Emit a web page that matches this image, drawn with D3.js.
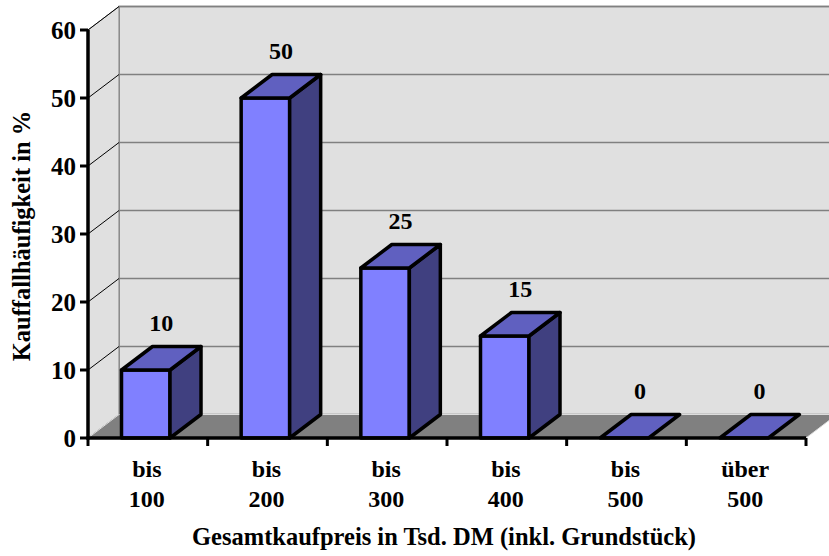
<!DOCTYPE html>
<html>
<head>
<meta charset="utf-8">
<script src="https://cdn.jsdelivr.net/npm/d3@7"></script>
<style>
  body { margin: 0; background: #fff; }
  text { font-family: "Liberation Serif", "Times New Roman", serif; font-weight: bold; fill: #000; }
</style>
</head>
<body>
<div id="chart"></div>
<script>
// data
const catTop = ['bis', 'bis', 'bis', 'bis', 'bis', 'über'];
const catBottom = ['100', '200', '300', '400', '500', '500'];
const values = [10, 50, 25, 15, 0, 0];
const yTicks = [0, 10, 20, 30, 40, 50, 60];

const W = 829, H = 556;
const x0 = 88, x1 = 806, yBase = 438, yTop = 30;
const dx = 31, dy = -23.5;   // depth offset of the 3d box
const colors = { front: '#8080FF', top: '#6060C0', side: '#404080', wall: '#E0E0E0', floor: '#808080', grid: '#808080' };

const svg = d3.select('#chart').append('svg')
  .attr('width', W)
  .attr('height', H);

const x = d3.scaleBand()
  .domain(d3.range(values.length))
  .range([x0, x1])
  .paddingInner(0)
  .paddingOuter(0);

const y = d3.scaleLinear()
  .domain([0, 60])
  .range([yBase, yTop]);

const pts = arr => arr.map(p => p.join(',')).join(' ');

// back wall
svg.append('polygon')
  .attr('points', pts([[x0 + dx, yTop + dy], [x1 + dx, yTop + dy], [x1 + dx, yBase + dy], [x0 + dx, yBase + dy]]))
  .attr('fill', colors.wall)
  .attr('stroke', colors.grid)
  .attr('stroke-width', 1.5);

// left side wall
svg.append('polygon')
  .attr('points', pts([[x0, yTop], [x0 + dx, yTop + dy], [x0 + dx, yBase + dy], [x0, yBase]]))
  .attr('fill', colors.wall)
  .attr('stroke', colors.grid)
  .attr('stroke-width', 1);

// gridlines on back wall + diagonals on side wall
yTicks.filter(d => d > 0).forEach(t => {
  svg.append('line')
    .attr('x1', x0 + dx).attr('x2', x1 + dx)
    .attr('y1', y(t) + dy).attr('y2', y(t) + dy)
    .attr('stroke', colors.grid)
    .attr('stroke-width', 1.5);
  svg.append('line')
    .attr('x1', x0).attr('x2', x0 + dx)
    .attr('y1', y(t)).attr('y2', y(t) + dy)
    .attr('stroke', '#000')
    .attr('stroke-width', 1);
});

// floor
svg.append('polygon')
  .attr('points', pts([[x0, yBase], [x1, yBase], [x1 + dx, yBase + dy], [x0 + dx, yBase + dy]]))
  .attr('fill', colors.floor)
  .attr('stroke', '#ddd')
  .attr('stroke-width', 1);

// bars
const bw = 48.5, bOff = 33.5;
const bars = svg.append('g').selectAll('g')
  .data(values)
  .join('g');

bars.each(function (v, i) {
  const g = d3.select(this);
  const l = x(i) + bOff, r = l + bw;
  const t = y(v), b = yBase;
  const sty = sel => sel.attr('stroke', '#000').attr('stroke-width', 3.5).attr('stroke-linejoin', 'round');
  if (v > 0) {
    g.append('polygon').attr('points', pts([[l, b], [r, b], [r, t], [l, t]]))
      .attr('fill', colors.front).call(sty);
    g.append('polygon').attr('points', pts([[r, b], [r + dx, b + dy], [r + dx, t + dy], [r, t]]))
      .attr('fill', colors.side).call(sty);
  }
  g.append('polygon').attr('points', pts([[l, t], [r, t], [r + dx, t + dy], [l + dx, t + dy]]))
    .attr('fill', colors.top).call(sty);

  g.append('text')
    .attr('x', (l + r) / 2 + dx / 2)
    .attr('y', t + dy - 16)
    .attr('text-anchor', 'middle')
    .attr('font-size', 24)
    .text(v);
});

// y axis
svg.append('line')
  .attr('x1', x0).attr('x2', x0)
  .attr('y1', yTop).attr('y2', yBase + 1.5)
  .attr('stroke', '#000').attr('stroke-width', 3.5);

const yAx = svg.append('g');
yTicks.forEach(t => {
  yAx.append('line')
    .attr('x1', x0 - 8).attr('x2', x0)
    .attr('y1', y(t)).attr('y2', y(t))
    .attr('stroke', '#000').attr('stroke-width', 3);
  yAx.append('text')
    .attr('x', x0 - 12)
    .attr('y', y(t))
    .attr('dy', '0.34em')
    .attr('text-anchor', 'end')
    .attr('font-size', 25)
    .text(t);
});

// x axis
svg.append('line')
  .attr('x1', x0 - 1.5).attr('x2', x1)
  .attr('y1', yBase).attr('y2', yBase)
  .attr('stroke', '#000').attr('stroke-width', 3.5);

d3.range(values.length + 1).forEach(i => {
  const xx = x0 + i * x.bandwidth();
  svg.append('line')
    .attr('x1', xx).attr('x2', xx)
    .attr('y1', yBase).attr('y2', yBase + 8)
    .attr('stroke', '#000').attr('stroke-width', 3);
});

const xLab = svg.append('g').selectAll('text')
  .data(values)
  .join('text')
  .attr('text-anchor', 'middle')
  .attr('font-size', 24)
  .attr('x', (d, i) => x(i) + x.bandwidth() / 2 - 1);
xLab.append('tspan').attr('y', 477).attr('x', (d, i) => x(i) + x.bandwidth() / 2 - 1).text((d, i) => catTop[i]);
xLab.append('tspan').attr('y', 507).attr('x', (d, i) => x(i) + x.bandwidth() / 2 - 1).text((d, i) => catBottom[i]);

// axis titles
svg.append('text')
  .attr('x', 444)
  .attr('y', 545)
  .attr('text-anchor', 'middle')
  .attr('font-size', 24.5)
  .text('Gesamtkaufpreis in Tsd. DM (inkl. Grundstück)');

svg.append('text')
  .attr('transform', 'translate(30,236) rotate(-90)')
  .attr('text-anchor', 'middle')
  .attr('font-size', 24.5)
  .text('Kauffallhäufigkeit in %');
</script>
</body>
</html>
